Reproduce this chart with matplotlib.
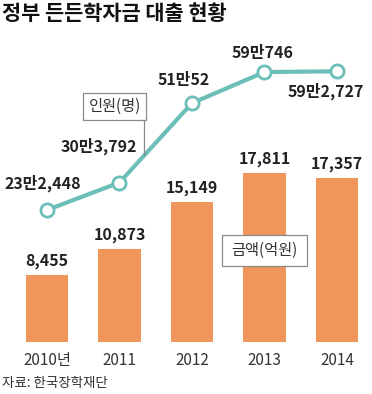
"""Government student loan chart: amount bars + borrower line."""

import matplotlib
matplotlib.use("Agg")
import matplotlib.pyplot as plt
from matplotlib.patches import Rectangle
from matplotlib.lines import Line2D

plt.rcParams["font.family"] = ["Noto Sans CJK KR", "DejaVu Sans"]

years = ["2010년", "2011", "2012", "2013", "2014"]
amount = [8455, 10873, 15149, 17811, 17357]          # 억원
people = [232448, 303792, 510052, 590746, 592727]     # 명
people_labels = ["23만2,448", "30만3,792", "51만52", "59만746", "59만2,727"]

BAR = "#f0965a"
LINE = "#6cbfb9"
TXT = "#222222"

W, H = 372, 394
fig = plt.figure(figsize=(W / 100, H / 100), dpi=100)


def fx(x):
    return x / W


def fy(y):
    return 1 - y / H


# axes spans from pixel row 0 down to the bar baseline (row 342)
ax = fig.add_axes([0, fy(342), 1, 342 / H])
ax.set_xlim(-0.648, 4.483)
ax.set_ylim(2300, 33676)
ax.bar(range(len(years)), amount, width=0.58, color=BAR, zorder=2)
for i, v in enumerate(amount):
    ax.annotate(f"{v:,}", (i, v), xytext=(0, 4), textcoords="offset points",
                ha="center", va="bottom", fontsize=11.5, weight="heavy", color=TXT)

ax.set_xticks(range(len(years)), years, fontsize=11, color="#333333")
ax.tick_params(axis="x", length=0, pad=7)
ax.set_yticks([])
for s in ax.spines.values():
    s.set_visible(False)

ax2 = ax.twinx()
ax2.set_ylim(-110409, 777903)
ax2.plot(range(len(years)), people, color=LINE, lw=3, marker="o", ms=9.5,
         mfc="white", mec=LINE, mew=2, zorder=3)
ax2.set_yticks([])
for s in ax2.spines.values():
    s.set_visible(False)

# label offsets in pixels (dx, dy up)
offs = [(-4, 27), (-21, 36), (-8, 23), (-2, 19), (-11, -20)]
for i, (v, lab) in enumerate(zip(people, people_labels)):
    dx, dy = offs[i]
    ax2.annotate(lab, (i, v), xytext=(dx * 0.72, dy * 0.72),
                 textcoords="offset points", ha="center", va="center",
                 fontsize=11.5, weight="heavy", color=TXT)

# legend tags
fig.add_artist(Rectangle((fx(83), fy(120)), fx(63), 27 / H, transform=fig.transFigure,
                         fc="white", ec="#8a8a8a", lw=0.9))
fig.add_artist(Line2D([fx(144), fx(144)], [fy(120), fy(155)],
                      transform=fig.transFigure, color="#8a8a8a", lw=0.9))
fig.text(fx(114.5), fy(106.5), "인원(명)", ha="center", va="center",
         fontsize=11, color="#333333")

fig.add_artist(Rectangle((fx(222), fy(266)), fx(85), 31 / H, transform=fig.transFigure,
                         fc="white", ec="#8a8a8a", lw=0.9, zorder=4))
fig.text(fx(264.5), fy(250.5), "금액(억원)", ha="center", va="center",
         fontsize=11, color="#333333", zorder=5)

fig.text(fx(2), fy(14), "정부 든든학자금 대출 현황", ha="left", va="center",
         fontsize=15, weight="heavy", color="#111111")
fig.text(fx(2), fy(383), "자료: 한국장학재단", ha="left", va="center",
         fontsize=9.7, color="#333333")

fig.savefig("out.png", dpi=100)
